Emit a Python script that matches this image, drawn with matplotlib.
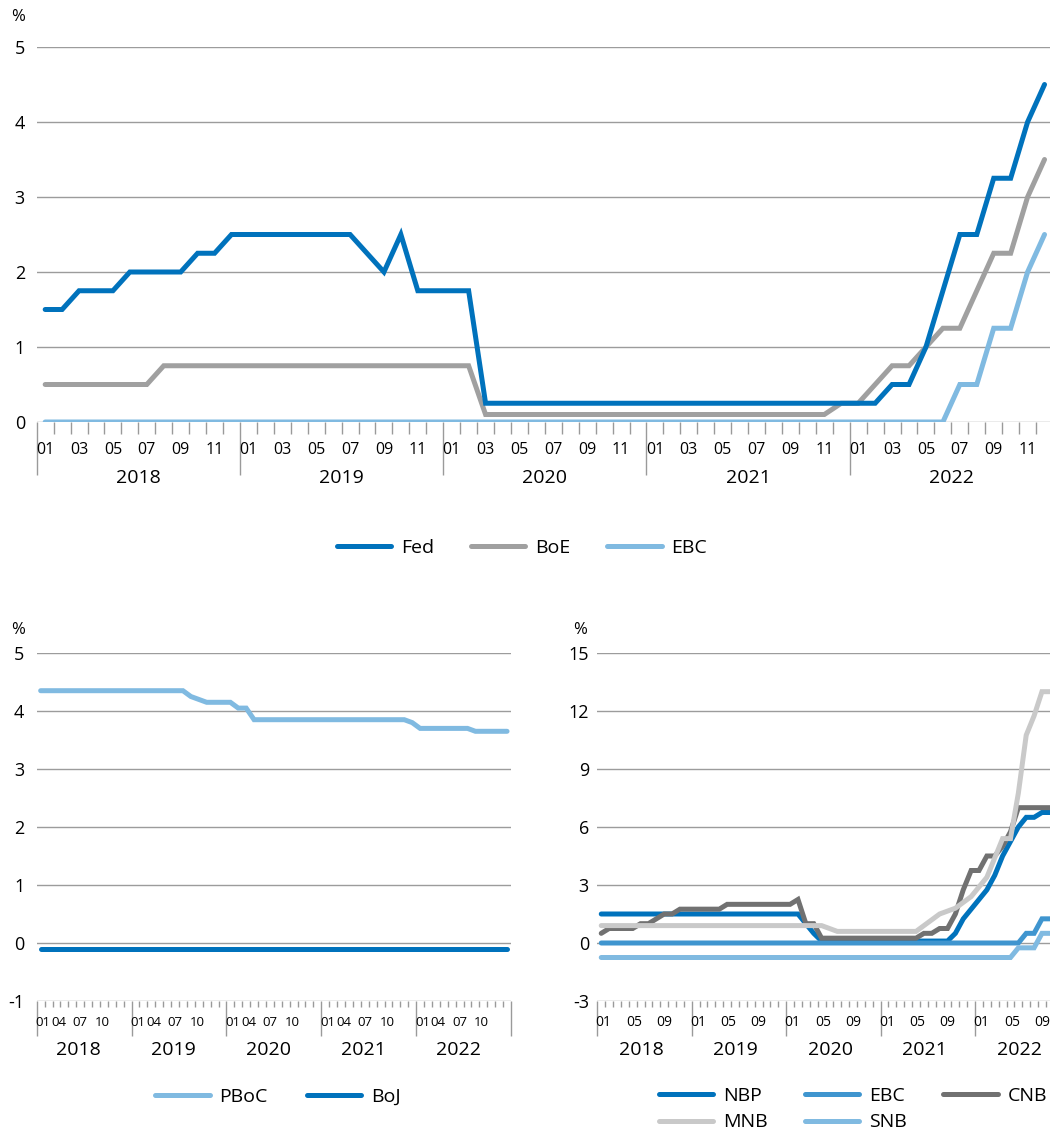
import numpy as np
import matplotlib.pyplot as plt
from matplotlib.lines import Line2D

plt.rcParams['font.family'] = ['Open Sans', 'DejaVu Sans']

# monthly policy rates (%), Jan 2018 onwards
years = ['2018', '2019', '2020', '2021', '2022']

# top chart: Fed, BoE, EBC (Jan 2018 - Dec 2022)
fed = [1.5, 1.5, 1.75, 1.75, 1.75, 2.0, 2.0, 2.0, 2.0, 2.25, 2.25, 2.5,
       2.5, 2.5, 2.5, 2.5, 2.5, 2.5, 2.5, 2.25, 2.0, 2.5, 1.75, 1.75,
       1.75, 1.75, 0.25, 0.25, 0.25, 0.25, 0.25, 0.25, 0.25, 0.25, 0.25, 0.25,
       0.25, 0.25, 0.25, 0.25, 0.25, 0.25, 0.25, 0.25, 0.25, 0.25, 0.25, 0.25,
       0.25, 0.25, 0.5, 0.5, 1.0, 1.75, 2.5, 2.5, 3.25, 3.25, 4.0, 4.5]
boe = [0.5, 0.5, 0.5, 0.5, 0.5, 0.5, 0.5, 0.75, 0.75, 0.75, 0.75, 0.75,
       0.75, 0.75, 0.75, 0.75, 0.75, 0.75, 0.75, 0.75, 0.75, 0.75, 0.75, 0.75,
       0.75, 0.75, 0.1, 0.1, 0.1, 0.1, 0.1, 0.1, 0.1, 0.1, 0.1, 0.1,
       0.1, 0.1, 0.1, 0.1, 0.1, 0.1, 0.1, 0.1, 0.1, 0.1, 0.1, 0.25,
       0.25, 0.5, 0.75, 0.75, 1.0, 1.25, 1.25, 1.75, 2.25, 2.25, 3.0, 3.5]
ebc = [0, 0, 0, 0, 0, 0, 0, 0, 0, 0, 0, 0,
       0, 0, 0, 0, 0, 0, 0, 0, 0, 0, 0, 0,
       0, 0, 0, 0, 0, 0, 0, 0, 0, 0, 0, 0,
       0, 0, 0, 0, 0, 0, 0, 0, 0, 0, 0, 0,
       0, 0, 0, 0, 0, 0, 0.5, 0.5, 1.25, 1.25, 2.0, 2.5]

# bottom left: PBoC, BoJ (Jan 2018 - Dec 2022)
pboc = [4.35, 4.35, 4.35, 4.35, 4.35, 4.35, 4.35, 4.35, 4.35, 4.35, 4.35, 4.35,
        4.35, 4.35, 4.35, 4.35, 4.35, 4.35, 4.35, 4.25, 4.2, 4.15, 4.15, 4.15,
        4.15, 4.05, 4.05, 3.85, 3.85, 3.85, 3.85, 3.85, 3.85, 3.85, 3.85, 3.85,
        3.85, 3.85, 3.85, 3.85, 3.85, 3.85, 3.85, 3.85, 3.85, 3.85, 3.85, 3.8,
        3.7, 3.7, 3.7, 3.7, 3.7, 3.7, 3.7, 3.65, 3.65, 3.65, 3.65, 3.65]
boj = [-0.1, -0.1, -0.1, -0.1, -0.1, -0.1, -0.1, -0.1, -0.1, -0.1, -0.1, -0.1,
       -0.1, -0.1, -0.1, -0.1, -0.1, -0.1, -0.1, -0.1, -0.1, -0.1, -0.1, -0.1,
       -0.1, -0.1, -0.1, -0.1, -0.1, -0.1, -0.1, -0.1, -0.1, -0.1, -0.1, -0.1,
       -0.1, -0.1, -0.1, -0.1, -0.1, -0.1, -0.1, -0.1, -0.1, -0.1, -0.1, -0.1,
       -0.1, -0.1, -0.1, -0.1, -0.1, -0.1, -0.1, -0.1, -0.1, -0.1, -0.1, -0.1]

# bottom right: NBP, EBC, CNB, MNB, SNB (Jan 2018 - Oct 2022)
nbp = [1.5, 1.5, 1.5, 1.5, 1.5, 1.5, 1.5, 1.5, 1.5, 1.5, 1.5, 1.5,
       1.5, 1.5, 1.5, 1.5, 1.5, 1.5, 1.5, 1.5, 1.5, 1.5, 1.5, 1.5,
       1.5, 1.5, 1.0, 0.5, 0.1, 0.1, 0.1, 0.1, 0.1, 0.1, 0.1, 0.1,
       0.1, 0.1, 0.1, 0.1, 0.1, 0.1, 0.1, 0.1, 0.1, 0.5, 1.25, 1.75,
       2.25, 2.75, 3.5, 4.5, 5.25, 6.0, 6.5, 6.5, 6.75, 6.75]
ebc2 = [0, 0, 0, 0, 0, 0, 0, 0, 0, 0, 0, 0,
        0, 0, 0, 0, 0, 0, 0, 0, 0, 0, 0, 0,
        0, 0, 0, 0, 0, 0, 0, 0, 0, 0, 0, 0,
        0, 0, 0, 0, 0, 0, 0, 0, 0, 0, 0, 0,
        0, 0, 0, 0, 0, 0, 0.5, 0.5, 1.25, 1.25]
cnb = [0.5, 0.75, 0.75, 0.75, 0.75, 1.0, 1.0, 1.25, 1.5, 1.5, 1.75, 1.75,
       1.75, 1.75, 1.75, 1.75, 2.0, 2.0, 2.0, 2.0, 2.0, 2.0, 2.0, 2.0,
       2.0, 2.25, 1.0, 1.0, 0.25, 0.25, 0.25, 0.25, 0.25, 0.25, 0.25, 0.25,
       0.25, 0.25, 0.25, 0.25, 0.25, 0.5, 0.5, 0.75, 0.75, 1.5, 2.75, 3.75,
       3.75, 4.5, 4.5, 5.0, 5.75, 7.0, 7.0, 7.0, 7.0, 7.0]
mnb = [0.9, 0.9, 0.9, 0.9, 0.9, 0.9, 0.9, 0.9, 0.9, 0.9, 0.9, 0.9,
       0.9, 0.9, 0.9, 0.9, 0.9, 0.9, 0.9, 0.9, 0.9, 0.9, 0.9, 0.9,
       0.9, 0.9, 0.9, 0.9, 0.9, 0.75, 0.6, 0.6, 0.6, 0.6, 0.6, 0.6,
       0.6, 0.6, 0.6, 0.6, 0.6, 0.9, 1.2, 1.5, 1.65, 1.8, 2.1, 2.4,
       2.9, 3.4, 4.4, 5.4, 5.4, 7.75, 10.75, 11.75, 13.0, 13.0]
snb = [-0.75, -0.75, -0.75, -0.75, -0.75, -0.75, -0.75, -0.75, -0.75, -0.75, -0.75, -0.75,
       -0.75, -0.75, -0.75, -0.75, -0.75, -0.75, -0.75, -0.75, -0.75, -0.75, -0.75, -0.75,
       -0.75, -0.75, -0.75, -0.75, -0.75, -0.75, -0.75, -0.75, -0.75, -0.75, -0.75, -0.75,
       -0.75, -0.75, -0.75, -0.75, -0.75, -0.75, -0.75, -0.75, -0.75, -0.75, -0.75, -0.75,
       -0.75, -0.75, -0.75, -0.75, -0.75, -0.25, -0.25, -0.25, 0.5, 0.5]

DARK = '#0072bc'
MID = '#3f95cf'
LIGHT = '#80bae1'
GREY = '#a0a0a0'
DGREY = '#717171'
LGREY = '#c9c9c9'
GRID = '#9c9c9c'
TICK = '#9a9a9a'
LW = 3.6

W, H = 1050, 1132
fig = plt.figure(figsize=(W / 100, H / 100), dpi=100)


def box(x0, x1, ytop, ybot):
    return [x0 / W, 1 - ybot / H, (x1 - x0) / W, (ybot - ytop) / H]


def setup(ax, yticks, major_len, minor_len, label_months, month_fs, year_fs,
          month_dy, year_dy, ypad, month_shift, year_shift):
    ax.set_xlim(-0.5, 59.5)
    ax.set_ylim(yticks[0], yticks[-1])
    ax.set_yticks(yticks)
    for y in yticks:
        ax.axhline(y, color=GRID, lw=1, zorder=0.5)
    for s in ax.spines.values():
        s.set_visible(False)
    ax.set_xticks(np.arange(-0.5, 60, 12))
    ax.set_xticks(np.arange(-0.5, 60, 1), minor=True)
    ax.tick_params(axis='x', which='major', length=major_len, color=TICK,
                   width=1, labelbottom=False)
    ax.tick_params(axis='x', which='minor', length=minor_len, color=TICK,
                   width=1)
    ax.tick_params(axis='y', length=0, pad=ypad, labelsize=13)
    ax.set_yticklabels([str(t) for t in yticks])
    trans = ax.get_xaxis_transform()
    for i in range(60):
        m = i % 12 + 1
        if m in label_months:
            ax.text(i + month_shift.get(m, 0), month_dy, f'{m:02d}',
                    transform=trans, ha='center', va='center',
                    fontsize=month_fs, clip_on=False)
    for j, yr in enumerate(years):
        ax.text(j * 12 + 5.5 + year_shift, year_dy, yr, transform=trans,
                ha='center', va='center', fontsize=year_fs, clip_on=False)


def line(ax, y, color):
    ax.plot(np.arange(len(y)), y, color=color, lw=LW,
            solid_capstyle='round', solid_joinstyle='miter', zorder=3)


def handle(color):
    return Line2D([], [], color=color, lw=LW, solid_capstyle='round')


# top chart
ax1 = fig.add_axes(box(36.7, 1053, 47, 422))
setup(ax1, [0, 1, 2, 3, 4, 5], 38, 8.5, [1, 3, 5, 7, 9, 11], 11.5, 14,
      -28 / 375, -56 / 375, 8.5, {}, 0)
line(ax1, ebc, LIGHT)
line(ax1, boe, GREY)
line(ax1, fed, DARK)
fig.text(18 / W, 1 - 17 / H, '%', ha='center', va='center', fontsize=12)
fig.legend([handle(DARK), handle(GREY), handle(LIGHT)], ['Fed', 'BoE', 'EBC'],
           loc='center', bbox_to_anchor=(522 / W, 1 - 548 / H), ncol=3,
           frameon=False, fontsize=14, handlelength=2.8, handletextpad=0.5,
           columnspacing=1.9)

# bottom left
ax2 = fig.add_axes(box(36.7, 511, 653, 1001))
setup(ax2, [-1, 0, 1, 2, 3, 4, 5], 25, 4.5, [1, 4, 7, 10], 9.5, 14,
      -22 / 348, -49 / 348, 9, {1: 0.3, 4: -0.7, 7: -1.0, 10: -1.2}, -0.7)
line(ax2, pboc, LIGHT)
line(ax2, boj, DARK)
fig.text(18 / W, 1 - 630 / H, '%', ha='center', va='center', fontsize=12)
fig.legend([handle(LIGHT), handle(DARK)], ['PBoC', 'BoJ'],
           loc='center', bbox_to_anchor=(278 / W, 1 - 1097 / H), ncol=2,
           frameon=False, fontsize=14, handlelength=2.8, handletextpad=0.5,
           columnspacing=2.0)

# bottom right
ax3 = fig.add_axes(box(597.3, 597.3 + 60 * 7.87, 653, 1001))
setup(ax3, [-3, 0, 3, 6, 9, 12, 15], 25, 4.5, [1, 5, 9], 10, 14,
      -22 / 348, -49 / 348, 6, {1: 0.3, 5: 0.2, 9: 0.0}, -0.4)
line(ax3, nbp, DARK)
line(ax3, ebc2, MID)
line(ax3, cnb, DGREY)
line(ax3, mnb, LGREY)
line(ax3, snb, LIGHT)
fig.text(580 / W, 1 - 630 / H, '%', ha='center', va='center', fontsize=12)
fig.legend([handle(DARK), handle(LGREY), handle(MID), handle(LIGHT), handle(DGREY)],
           ['NBP', 'MNB', 'EBC', 'SNB', 'CNB'],
           loc='center', bbox_to_anchor=(853 / W, 1 - 1109 / H), ncol=3,
           frameon=False, fontsize=14, handlelength=2.8, handletextpad=0.5,
           columnspacing=1.9, labelspacing=0.45)

fig.savefig('out.png', dpi=100)
